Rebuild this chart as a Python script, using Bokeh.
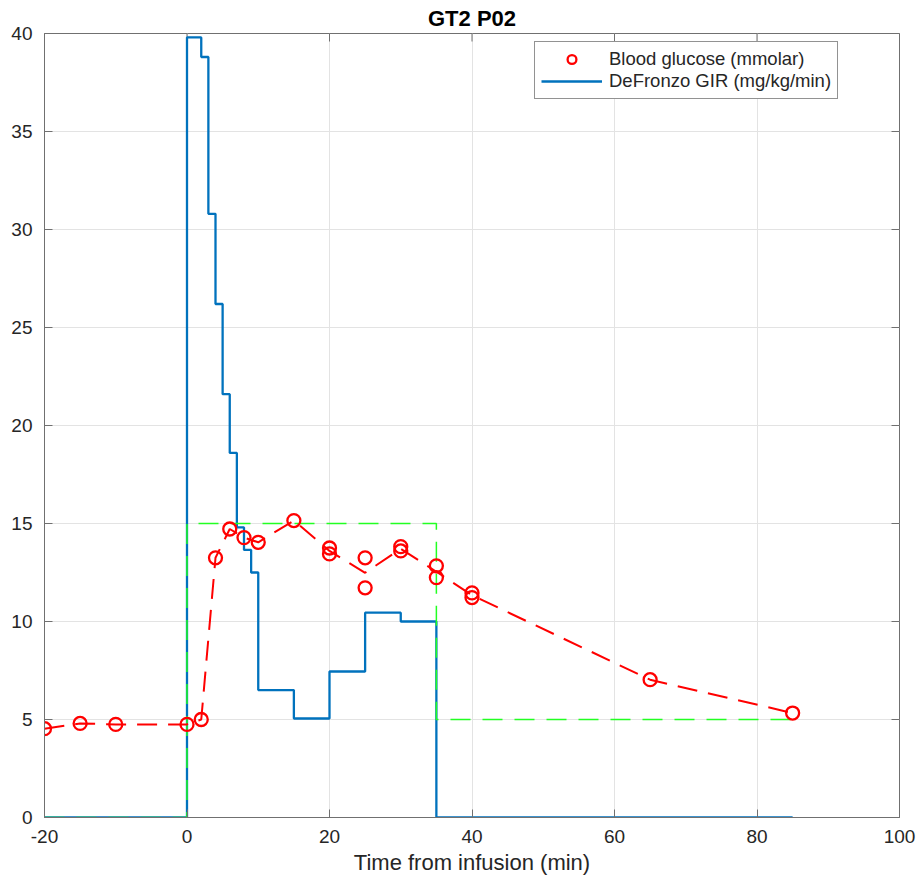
import numpy as np
from bokeh.plotting import figure
from bokeh.models import Range1d, Legend, LegendItem, FixedTicker
from bokeh.embed import file_html
from bokeh.resources import INLINE

# ---- data ----
gir_t = [-20, 0, 2, 3, 4, 5, 6, 7, 8, 9, 10, 15, 20, 25, 30, 35, 85]
gir_v = [0, 39.8, 38.8, 30.8, 26.2, 21.6, 18.6, 14.8, 13.65, 12.5, 6.5, 5.05, 7.45, 10.45, 10.0, 0, 0]

target_t = [-20, 0, 35, 85]
target_v = [0, 15, 5, 5]

bg_t = [-20, -15, -10, 0, 2, 4, 6, 8, 10, 15, 20, 20, 25, 25, 30, 30, 35, 35, 40, 40, 65, 85]
bg_v = [4.53, 4.8, 4.75, 4.75, 5.0, 13.25, 14.72, 14.28, 14.04, 15.15, 13.75, 13.45,
        13.25, 11.72, 13.82, 13.6, 12.84, 12.24, 11.46, 11.22, 7.03, 5.33]

x_ticks = [-20, 0, 20, 40, 60, 80, 100]
y_ticks = [0, 5, 10, 15, 20, 25, 30, 35, 40]
x_min, x_max = -20, 100
y_min, y_max = 0, 40

title_text = "GT2 P02"
x_label = "Time from infusion (min)"
legend_labels = ["Blood glucose (mmolar)", "DeFronzo GIR (mg/kg/min)"]

# mean glucose per sample time for the connecting line
bt = np.array(bg_t, dtype=float)
bv = np.array(bg_v, dtype=float)
line_t = np.unique(bt)
line_v = np.array([bv[bt == t].mean() for t in line_t])

FONT = "Liberation Sans"
AX = "#707070"
TXT = "#262626"

p = figure(frame_width=855, frame_height=784,
           x_range=Range1d(x_min, x_max), y_range=Range1d(y_min, y_max),
           output_backend="svg", toolbar_location=None,
           min_border_left=44, min_border_right=18, min_border_top=33, min_border_bottom=58,
           background_fill_color="white", border_fill_color="white")

p.title.text = title_text
p.title.align = "center"
p.title.text_font = FONT
p.title.text_font_size = "22px"
p.title.text_font_style = "bold"
p.title.text_color = "black"
p.title.offset = 0
p.title.standoff = 6

p.outline_line_color = AX
p.outline_line_width = 1

for ax in (p.xaxis[0], p.yaxis[0]):
    ax.major_tick_in = 8
    ax.major_tick_out = 0
    ax.minor_tick_in = 0
    ax.minor_tick_out = 0
    ax.axis_line_color = AX
    ax.major_tick_line_color = AX
    ax.major_label_text_font = FONT
    ax.major_label_text_font_size = "19px"
    ax.major_label_text_color = TXT
    ax.major_label_standoff = 12

p.xaxis[0].ticker = FixedTicker(ticks=x_ticks)
p.yaxis[0].ticker = FixedTicker(ticks=y_ticks)
p.xaxis[0].major_label_overrides = {t: str(t) for t in x_ticks}
p.xaxis[0].axis_label = x_label
p.xaxis[0].axis_label_text_font = FONT
p.xaxis[0].axis_label_text_font_size = "22px"
p.xaxis[0].axis_label_text_font_style = "normal"
p.xaxis[0].axis_label_text_color = TXT
p.xaxis[0].axis_label_standoff = 4

p.xgrid.ticker = FixedTicker(ticks=x_ticks)
p.ygrid.ticker = FixedTicker(ticks=y_ticks)
p.grid.grid_line_color = "#e3e3e3"
p.grid.grid_line_width = 1

# inward box ticks on the top and right edges (clipped to the frame)
p.scatter(x_ticks, [y_max] * len(x_ticks), marker="dash", angle=np.pi / 2, size=16,
          line_color=AX, line_width=1)
p.scatter([x_max] * len(y_ticks), y_ticks, marker="dash", size=16,
          line_color=AX, line_width=1)

gir = p.step(gir_t, gir_v, mode="after", line_color="#0072BD", line_width=2.3)
p.step(target_t, target_v, mode="after", line_color="#22ff22", line_width=1.5,
       line_dash="20 12")
p.line(line_t, line_v, line_color="#ff0000", line_width=2, line_dash="20 11")
bg = p.scatter(bg_t, bg_v, marker="circle", size=13, fill_color=None,
               line_color="#ff0000", line_width=2.3)

legend = Legend(items=[LegendItem(label=legend_labels[0], renderers=[bg]),
                       LegendItem(label=legend_labels[1], renderers=[gir])],
                location=(490, 718))
legend.label_text_font = FONT
legend.label_text_font_size = "18.5px"
legend.label_text_color = TXT
legend.glyph_width = 61
legend.glyph_height = 22
legend.label_height = 22
legend.label_standoff = 7
legend.spacing = 0
legend.padding = 6
legend.margin = 0
legend.border_line_color = TXT
legend.border_line_width = 1
legend.background_fill_color = "white"
legend.background_fill_alpha = 1
p.add_layout(legend, "center")

open("out.html", "w").write(file_html(p, INLINE))
